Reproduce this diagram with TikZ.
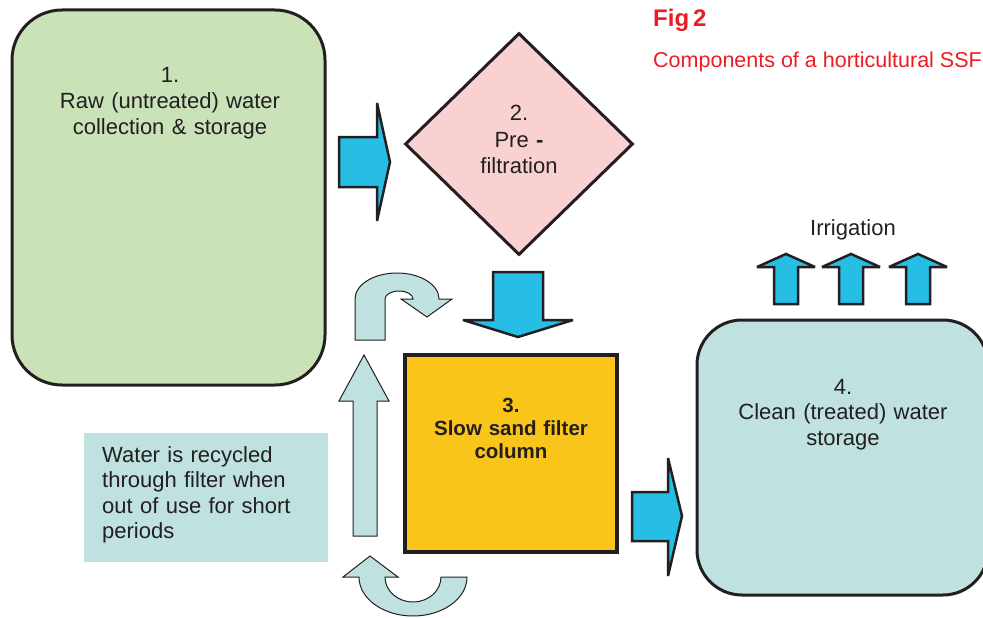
\documentclass[tikz,border=0pt]{standalone}
\usepackage{fontspec}
\setmainfont{Liberation Sans}
\usetikzlibrary{shapes.geometric}
\definecolor{ink}{HTML}{231F20}
\definecolor{rawgreen}{HTML}{C9E2B7}
\definecolor{prepink}{HTML}{F8D1D0}
\definecolor{ssfyellow}{HTML}{F9C51B}
\definecolor{cleanteal}{HTML}{BFE2E0}
\definecolor{flowcyan}{HTML}{27BEE6}
\definecolor{figred}{HTML}{ED1C24}
\begin{document}
\begin{tikzpicture}[x=1pt,y=-1pt,
  box/.style={rectangle, draw=ink, line width=3pt, inner sep=0pt},
  lbl/.style={text width=330pt, align=center, inner sep=0pt, anchor=base, text=ink,
    font=\fontsize{22}{26}\selectfont},
  flowarrow/.style={fill=flowcyan, draw=ink, line width=2.5pt, miter limit=3},
  loopArrow/.style={fill=cleanteal, draw=ink, line width=1pt}]
\useasboundingbox (0,0) rectangle (983,618);
\clip (0,0) rectangle (983,618);

% main components
\node[box, fill=rawgreen, rounded corners=50pt, minimum width=313pt, minimum height=375pt] (raw) at (168.5,197.5) {};
\node[diamond, draw=ink, line width=3pt, fill=prepink, minimum width=228pt, minimum height=222pt, inner sep=0pt] (pre) at (519,144) {};
\node[rectangle, draw=ink, line width=4pt, fill=ssfyellow, minimum width=212pt, minimum height=197pt, inner sep=0pt] (ssf) at (511,453.5) {};
\node[box, fill=cleanteal, rounded corners=45pt, minimum width=291pt, minimum height=275pt] (clean) at (842.5,457.5) {};
\node[rectangle, fill=cleanteal, minimum width=244pt, minimum height=129pt, inner sep=0pt] (note) at (206,497.5) {};

% labels
\node[lbl] (rawtext) at (170,82) {1.\\Raw (untreated) water\\collection \& storage};
\node[lbl, font=\fontsize{22}{26.5}\selectfont] (pretext) at (519,121) {2.\\Pre \textbf{-}\\filtration};
\node[lbl, font=\bfseries\fontsize{20.5}{23}\selectfont] (ssftext) at (511,412) {3.\\Slow sand filter\\column};
\node[lbl, font=\fontsize{22}{25.5}\selectfont] (cleantext) at (843,394) {4.\\Clean (treated) water\\storage};
\node[text width=240pt, align=left, inner sep=0pt, anchor=base west, text=ink,
  font=\fontsize{22}{25.5}\selectfont] (notetext) at (102,462)
  {Water is recycled\\through filter when\\out of use for short\\periods};
\node[inner sep=0pt, anchor=base, text=ink, font=\fontsize{22}{26}\selectfont] (irr) at (853,235) {Irrigation};
\node[inner sep=0pt, anchor=base west, text=figred, font=\bfseries\fontsize{24}{28}\selectfont] (fig) at (653,27) {Fig\,2};
\node[inner sep=0pt, anchor=base west, text=figred, font=\fontsize{21.5}{26}\selectfont] (caption) at (653,68) {Components of a horticultural SSF};

% flow arrows
\draw[flowarrow] (339,137) -- (377,137) -- (377,103) -- (390,162) -- (377,221) -- (377,187) -- (339,187) -- cycle;
\draw[flowarrow] (493,272) -- (543,272) -- (543,320) -- (573,320) -- (518,337) -- (463,320) -- (493,320) -- cycle;
\draw[flowarrow] (632,492) -- (668,492) -- (668,458) -- (682,516) -- (668,576) -- (668,541) -- (632,541) -- cycle;
\foreach \c in {786,851,918} {
  \draw[flowarrow] ({\c-12},304) -- ({\c-12},267) -- ({\c-29},267) -- (\c,254) -- ({\c+29},267) -- ({\c+12},267) -- ({\c+12},304) -- cycle;
}

% recycling loop arrows
\draw[loopArrow] (353,536) -- (353,401) -- (339,401) -- (364,355) -- (389,401) -- (377,401) -- (377,536) -- cycle;
\draw[loopArrow] (355,340) -- (355,299) arc[start angle=180, end angle=360, x radius=42, y radius=26]
  -- (452,299) -- (427,317) -- (401,299) -- (413,299)
  arc[start angle=360, end angle=180, x radius=14, y radius=8] -- (385,340) -- cycle;
\draw[loopArrow] (343,577) -- (370,556) -- (398,577) -- (385,577)
  arc[start angle=180, end angle=0, x radius=28, y radius=25] -- (467,577)
  arc[start angle=0, end angle=180, x radius=54, y radius=39] -- cycle;
\end{tikzpicture}
\end{document}
